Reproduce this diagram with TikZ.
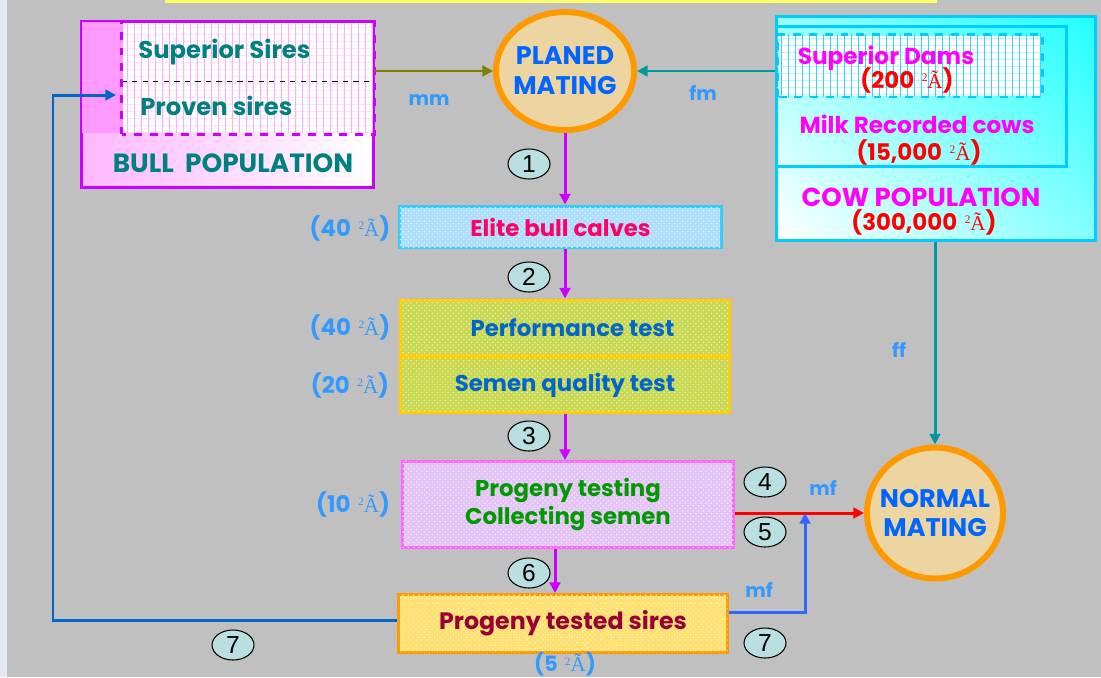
\documentclass[tikz,border=0pt]{standalone}
\usepackage{fontspec}
\setmainfont{Poppins}
\newfontfamily\glyphfont{Liberation Serif}
\newfontfamily\digitfont{Liberation Sans}
\usepackage{tikz}
\usetikzlibrary{
	arrows.meta,
	calc,
	patterns,
	shadings,
	positioning,
	shapes.geometric
}
\definecolor{BackGray}{RGB}{192,192,192}
\definecolor{SideStrip}{RGB}{230,232,244}
\definecolor{TopYellow}{RGB}{255,255,102}
\definecolor{BullPink}{RGB}{255,153,255}
\definecolor{BullEdge}{RGB}{204,0,255}
\definecolor{TealText}{RGB}{0,128,128}
\definecolor{MateOrange}{RGB}{255,153,0}
\definecolor{MateFill}{RGB}{236,213,160}
\definecolor{MateBlue}{RGB}{0,102,255}
\definecolor{LabelBlue}{RGB}{51,153,255}
\definecolor{CowCyan}{RGB}{0,204,255}
\definecolor{CowFill}{RGB}{34,255,255}
\definecolor{DamMagenta}{RGB}{255,0,255}
\definecolor{CountRed}{RGB}{255,0,0}
\definecolor{FlowViolet}{RGB}{204,0,255}
\definecolor{EliteEdge}{RGB}{51,204,255}
\definecolor{EliteFill}{RGB}{172,222,250}
\definecolor{EliteText}{RGB}{255,0,102}
\definecolor{TestEdge}{RGB}{255,204,0}
\definecolor{TestFill}{RGB}{200,216,80}
\definecolor{TestText}{RGB}{0,102,204}
\definecolor{ProgEdge}{RGB}{255,102,255}
\definecolor{ProgFill}{RGB}{228,196,246}
\definecolor{ProgText}{RGB}{0,153,0}
\definecolor{SireEdge}{RGB}{255,153,0}
\definecolor{SireFill}{RGB}{255,224,110}
\definecolor{SireText}{RGB}{153,0,51}
\definecolor{StepFill}{RGB}{185,223,224}
\definecolor{MmOlive}{RGB}{128,128,0}
\definecolor{FfTeal}{RGB}{0,153,153}
\definecolor{ReturnBlue}{RGB}{0,102,204}
\definecolor{MfBlue}{RGB}{51,102,255}
\definecolor{RedLine}{RGB}{255,0,0}
\newcommand{\headcount}{\hspace{0.12em}{\glyphfont\mdseries\raisebox{0.6ex}{\fontsize{6.5}{6.5}\selectfont 2}\fontsize{12}{12}\selectfont Ã}}
\tikzset{
	box/.style={rectangle, inner sep=0pt, line width=1.7pt},
	texture/.style={postaction={pattern=crosshatch dots, pattern color=#1}},
	mating/.style={ellipse, draw=MateOrange, fill=MateFill, line width=3.4pt, inner sep=-12pt,
		align=center, text=MateBlue, font=\bfseries\fontsize{14.5}{17}\selectfont},
	stepmark/.style={ellipse, draw, fill=StepFill, line width=0.6pt, inner sep=0pt,
		minimum width=0.84cm, minimum height=0.6cm, font=\digitfont\fontsize{14}{14}\selectfont},
	countlabel/.style={text=LabelBlue, font=\bfseries\fontsize{13}{15}\selectfont, inner sep=0pt},
	matelabel/.style={text=LabelBlue, font=\bfseries\fontsize{11}{13}\selectfont, inner sep=0pt},
	flow/.style={draw=FlowViolet, line width=1.7pt, -{Triangle[length=6pt,width=6pt]}},
	tip/.style={line width=1.7pt, -{Triangle[length=6pt,width=6pt]}}
}

\begin{document}
\begin{tikzpicture}[x=0.02cm, y=-0.02cm]
	\useasboundingbox (0,0) rectangle (1101,677);
	\fill[BackGray] (0,0) rectangle (1101,677);
	\fill[SideStrip] (0,0) rectangle (7,677);
	\fill[TopYellow] (165,0) rectangle (937,3);
	
	% bull population
	\node[box, draw=BullEdge, left color=BullPink!70, right color=white,
		minimum width=5.84cm, minimum height=3.32cm] (bull) at (227.5,104.5) {};
	\fill[BullPink] (82,22) rectangle (123,133);
	\node[box, fill=white, minimum width=5cm, minimum height=2.2cm] (sires) at (248,78) {};
	\begin{scope}
		\clip (sires.south west) rectangle (sires.north east);
		\foreach \y in {27,34,...,133}
		\draw[BullPink!30, line width=0.4pt] (123,\y) -- (373,\y);
		\foreach \x in {127,134,...,373}
		\draw[BullPink!80, line width=0.5pt] (\x,23) -- (\x,133);
	\end{scope}
	\draw[black, dashed, line width=0.5pt] (sires.west |- 0,81) -- (sires.east |- 0,81);
	\draw[BullEdge, line width=1.7pt, dash pattern=on 4.5pt off 4.5pt] (sires.south west) rectangle (sires.north east);
	\node[anchor=west, text=TealText, font=\bfseries\fontsize{13.8}{16}\selectfont, inner sep=0pt] (superior) at (138,52) {Superior Sires};
	\node[anchor=west, text=TealText, font=\bfseries\fontsize{13.8}{16}\selectfont, inner sep=0pt] (proven) at (140,106) {Proven sires};
	\node[text=TealText, font=\bfseries\fontsize{15}{17}\selectfont, inner sep=0pt] (bulltitle) at (233,163) {BULL\ \ POPULATION};
	
	% cow population
	\node[box, draw=CowCyan, lower left=white, upper right=CowFill, upper left=CowFill!45, lower right=CowFill!55,
		minimum width=6.38cm, minimum height=4.48cm] (cow) at (936,128.5) {};
	\node[box, draw=CowCyan, minimum width=5.8cm, minimum height=2.8cm] (milk) at (921.5,96.5) {};
	\node[box, fill=white, minimum width=5.26cm, minimum height=1.2cm] (dams) at (910,65.5) {};
	\begin{scope}
		\clip (dams.south west) rectangle (dams.north east);
		\foreach \y in {38,45,...,97}
		\draw[CowCyan!25, line width=0.4pt] (777,\y) -- (1043,\y);
		\foreach \x in {781,788,...,1043}
		\draw[CowCyan!80, line width=0.5pt] (\x,34) -- (\x,97);
	\end{scope}
	\draw[CowCyan, line width=1.7pt, dash pattern=on 4.5pt off 4.5pt] (dams.south west) rectangle (dams.north east);
	\node[text=DamMagenta, font=\bfseries\fontsize{13.2}{15}\selectfont, inner sep=0pt] (damsname) at (886,58) {Superior Dams};
	\node[text=CountRed, font=\bfseries\fontsize{13}{15}\selectfont, inner sep=0pt] (damscount) at (907,80) {(200 \headcount)};
	\node[text=DamMagenta, font=\bfseries\fontsize{13.2}{15}\selectfont, inner sep=0pt] (milkname) at (917,124) {Milk Recorded cows};
	\node[text=CountRed, font=\bfseries\fontsize{13}{15}\selectfont, inner sep=0pt] (milkcount) at (919,152) {(15,000 \headcount)};
	\node[text=DamMagenta, font=\bfseries\fontsize{14.8}{17}\selectfont, inner sep=0pt] (cowname) at (921,197) {COW POPULATION};
	\node[text=CountRed, font=\bfseries\fontsize{13}{15}\selectfont, inner sep=0pt] (cowcount) at (924,222) {(300,000 \headcount)};
	
	% matings
	\node[mating, minimum width=2.76cm, minimum height=2.36cm] (planed) at (565,71) {PLANED\\MATING};
	\node[mating, minimum width=2.72cm, minimum height=2.62cm] (normal) at (935,513) {NORMAL\\MATING};
	
	% selection steps
	\node[box, draw=EliteEdge, fill=EliteFill, texture=white!60!EliteFill, minimum width=6.44cm, minimum height=0.84cm,
		text=EliteText, font=\bfseries\fontsize{13}{15}\selectfont] (elite) at (560.5,227) {Elite bull calves};
	\node[box, draw=TestEdge, fill=TestFill, texture=white!55!TestFill, minimum width=6.58cm, minimum height=1.1cm,
		text=TestText, font=\bfseries\fontsize{13}{15}\selectfont] (perf) at (565,327.5) {\hspace{0.3cm}Performance test};
	\node[box, draw=TestEdge, fill=TestFill, texture=white!55!TestFill, minimum width=6.58cm, minimum height=1.1cm,
		text=TestText, font=\bfseries\fontsize{13}{15}\selectfont, below=0pt of perf] (semen) {Semen quality test};
	\node[box, draw=ProgEdge, fill=ProgFill, texture=white!60!ProgFill, minimum width=6.62cm, minimum height=1.72cm,
		text=ProgText, font=\bfseries\fontsize{13}{15.5}\selectfont, align=center] (progeny) at (568,504.5) {Progeny testing\\Collecting semen};
	\node[box, draw=SireEdge, fill=SireFill, texture=white!60!SireFill, minimum width=6.58cm, minimum height=1.16cm,
		text=SireText, font=\bfseries\fontsize{13.5}{15}\selectfont] (tested) at (563,623.5) {Progeny tested sires};
	
	\node[countlabel] (c1) at (350,228) {(40 \headcount)};
	\node[countlabel] (c2) at (350,327) {(40 \headcount)};
	\node[countlabel] (c3) at (350,385) {(20 \headcount)};
	\node[countlabel] (c4) at (353,504) {(10 \headcount)};
	\node[countlabel, font=\bfseries\fontsize{12}{14}\selectfont] (c5) at (565,664) {(5 \headcount)};
	
	\node[matelabel] (mm) at (429,100) {mm};
	\node[matelabel] (fm) at (703,93) {fm};
	\node[matelabel] (ff) at (899,350) {ff};
	\node[matelabel] (mfa) at (823,488) {mf};
	\node[matelabel] (mfb) at (759,590) {mf};
	
	\foreach \n/\x/\y in {1/529/164, 2/529/277, 3/529/436, 4/765/482, 5/765/532, 6/529/573}
	\node[stepmark] (s\n) at (\x,\y) {\n};
	\node[stepmark] (s7a) at (765,643) {7};
	\node[stepmark] (s7b) at (233,645) {7};
	
	% connectors
	\draw[tip, MmOlive] (bull.east |- planed.west) -- (planed.west);
	\draw[tip, FfTeal] (cow.west |- planed.east) -- (planed.east);
	\draw[tip, FfTeal] (cow.south -| normal.north) -- (normal.north);
	\draw[flow] (planed.south) -- (planed.south |- elite.north);
	\draw[flow] (elite.south -| perf.north) -- (perf.north);
	\draw[flow] (semen.south) -- (semen.south |- progeny.north);
	\coordinate (drop) at ([xshift=-0.26cm]progeny.south);
	\draw[flow] (drop) -- (drop |- tested.north);
	\draw[tip, RedLine] (progeny.east |- normal.west) -- (normal.west);
	\coordinate (mfjoin) at (805,513);
	\draw[tip, MfBlue] ([yshift=0.23cm]tested.east) -| (mfjoin);
	\coordinate (backturn) at (53,0);
	\coordinate (backin) at (116,95);
	\draw[tip, ReturnBlue] ([yshift=0.07cm]tested.west) -- ([yshift=0.07cm]tested.west -| backturn) |- (backin);
\end{tikzpicture}
\end{document}
